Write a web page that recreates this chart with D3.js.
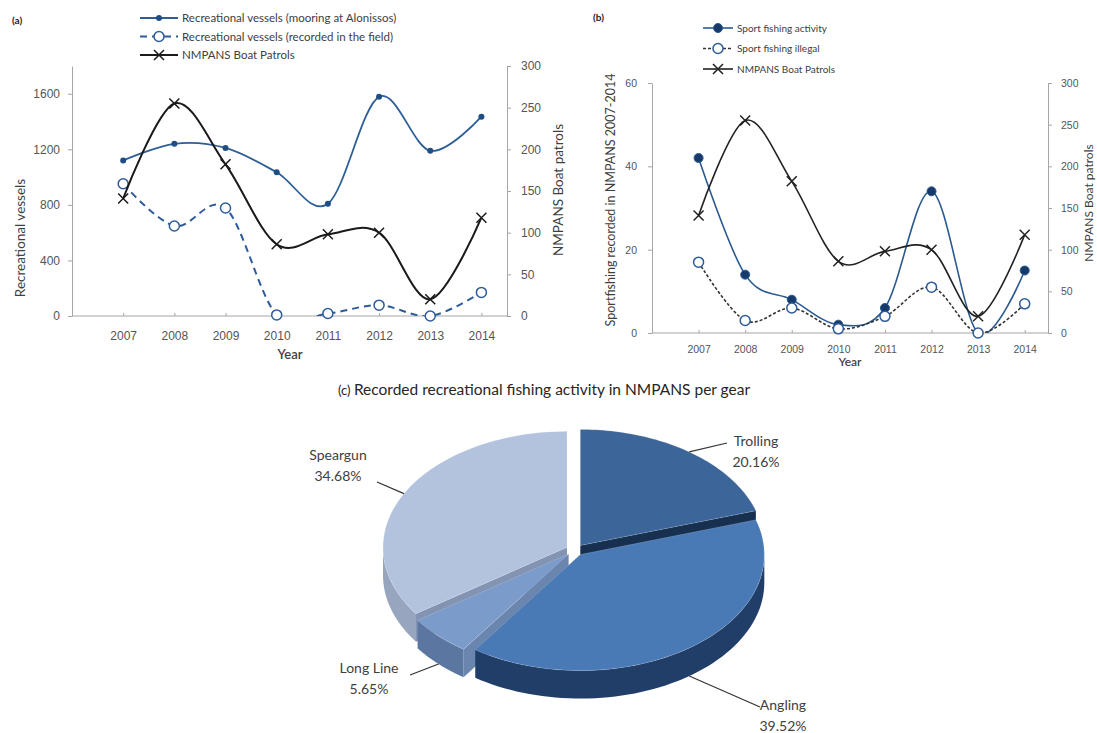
<!DOCTYPE html>
<html>
<head>
<meta charset="utf-8">
<script src="https://cdn.jsdelivr.net/npm/d3@7"></script>
<style>
  html, body { margin: 0; padding: 0; background: #fff; }
  svg { display: block; font-family: Lato, "Liberation Sans", sans-serif; }
</style>
</head>
<body>
<svg id="chart" width="1097" height="733"></svg>
<script>
const years = [2007, 2008, 2009, 2010, 2011, 2012, 2013, 2014];

// (a) vessels + patrols
const vesselsMooring = [1120, 1240, 1210, 1035, 808, 1578, 1190, 1435];
const vesselsField = [952, 648, 778, 8, 18, 78, 0, 170];
const boatPatrols = [141, 255, 182, 86, 98, 100, 20, 118];
const vesselTicks = [0, 400, 800, 1200, 1600];
const patrolTicks = [0, 50, 100, 150, 200, 250, 300];

// (b) sport fishing
const sportActivity = [42, 14, 8, 2, 6, 34, 0, 15];
const sportIllegal = [17, 3, 6, 1, 4, 11, 0, 7];
const sportTicks = [0, 20, 40, 60];

// (c) gear shares
const gears = ["Trolling", "Angling", "Long Line", "Speargun"];
const gearShares = [20.16, 39.52, 5.65, 34.68];

const svg = d3.select("#chart");

const drawMarker = (sel, type, color) => {
    if (type === "dot") {
        sel.append("circle").attr("r", 3).attr("fill", color);
    } else if (type === "disk") {
        sel.append("circle").attr("r", 4.5).attr("fill", "#173a6b").attr("stroke", color).attr("stroke-width", 1);
    } else if (type === "ring") {
        sel.append("circle").attr("r", 5).attr("fill", "#fff").attr("stroke", color).attr("stroke-width", 1.5);
    } else if (type === "cross") {
        sel.append("path").attr("d", "M-5,-5L5,5M-5,5L5,-5").attr("stroke", color).attr("stroke-width", 1.5);
    }
};

const drawPanel = (cfg) => {
    const g = svg.append("g");
    const step = (cfg.right - cfg.left) / 8.5;
    const x = d3.scalePoint().domain(years).range([cfg.left + step, cfg.right - step / 2]);
    const yL = d3.scaleLinear().domain([0, cfg.leftMax]).range([cfg.bottom, cfg.top]);
    const yR = d3.scaleLinear().domain([0, 300]).range([cfg.bottom, cfg.top]);

    const styleAxis = (sel) => {
        sel.selectAll("path, line").attr("stroke", "#a6a6a6");
        sel.selectAll("text").attr("fill", "#555").style("font-size", cfg.tickFont + "px");
    };

    g.append("g")
        .attr("transform", `translate(${cfg.left},0)`)
        .call(d3.axisLeft(yL).tickValues(cfg.leftTicks).tickFormat(d3.format("d"))
            .tickSizeInner(4).tickSizeOuter(0).tickPadding(cfg.leftPad))
        .call(styleAxis);
    g.append("g")
        .attr("transform", `translate(${cfg.right},0)`)
        .call(d3.axisRight(yR).tickValues(patrolTicks).tickFormat(d3.format("d"))
            .tickSizeInner(4).tickSizeOuter(0).tickPadding(cfg.rightPad))
        .call(styleAxis);
    g.append("line")
        .attr("x1", cfg.left).attr("x2", cfg.right)
        .attr("y1", yL(0)).attr("y2", yL(0))
        .attr("stroke", "#a6a6a6");
    g.append("g")
        .attr("transform", `translate(0,${cfg.bottom})`)
        .call(d3.axisBottom(x).tickSizeInner(-3).tickSizeOuter(0).tickPadding(cfg.xPad))
        .call(sel => sel.select(".domain").remove())
        .call(styleAxis);

    const clipId = "clip" + cfg.id;
    g.append("clipPath").attr("id", clipId)
        .append("rect")
        .attr("x", cfg.left).attr("y", cfg.top - 20)
        .attr("width", cfg.right - cfg.left).attr("height", cfg.bottom - cfg.top + 20);

    const curve = d3.curveCardinal.tension(0);
    cfg.series.forEach(s => {
        const y = s.axis === "right" ? yR : yL;
        const line = d3.line()
            .x((d, i) => x(years[i]))
            .y(d => y(d))
            .curve(curve);
        g.append("path")
            .attr("clip-path", `url(#${clipId})`)
            .attr("d", line(s.values))
            .attr("fill", "none")
            .attr("stroke", s.color)
            .attr("stroke-width", s.width)
            .attr("stroke-dasharray", s.dash || null);
        g.selectAll(null)
            .data(s.values)
            .enter()
            .append("g")
            .attr("transform", (d, i) => `translate(${x(years[i])},${y(d)})`)
            .each(function () { drawMarker(d3.select(this), s.marker, s.markerColor); });
    });

    // legend
    cfg.series.forEach((s, i) => {
        const ly = cfg.legend.y + i * cfg.legend.gap;
        const lg = g.append("g");
        lg.append("line")
            .attr("x1", cfg.legend.x).attr("x2", cfg.legend.x + cfg.legend.len)
            .attr("y1", ly).attr("y2", ly)
            .attr("stroke", s.color).attr("stroke-width", s.width)
            .attr("stroke-dasharray", s.dash || null);
        lg.append("g")
            .attr("transform", `translate(${cfg.legend.x + cfg.legend.len / 2},${ly})`)
            .each(function () { drawMarker(d3.select(this), s.marker, s.markerColor); });
        lg.append("text")
            .attr("x", cfg.legend.x + cfg.legend.len + 4)
            .attr("y", ly + cfg.legendFont * 0.35)
            .attr("fill", "#404040")
            .style("font-size", cfg.legendFont + "px")
            .text(s.name);
    });

    g.append("text")
        .attr("x", cfg.tag[0]).attr("y", cfg.tag[1])
        .attr("fill", "#222").style("font-size", "10px").style("font-weight", "bold")
        .text(cfg.tagText);

    g.append("text")
        .attr("transform", `translate(${cfg.leftTitle[0]},${cfg.leftTitle[1]}) rotate(-90)`)
        .attr("text-anchor", "middle").attr("fill", "#404040")
        .style("font-size", cfg.leftTitle[2] + "px")
        .text(cfg.leftTitleText);
    g.append("text")
        .attr("transform", `translate(${cfg.rightTitle[0]},${cfg.rightTitle[1]}) rotate(-90)`)
        .attr("text-anchor", "middle").attr("fill", "#404040")
        .style("font-size", cfg.rightTitle[2] + "px")
        .text("NMPANS Boat patrols");
    g.append("text")
        .attr("x", cfg.yearLabel[0]).attr("y", cfg.yearLabel[1])
        .attr("text-anchor", "middle").attr("fill", "#404040")
        .style("font-size", cfg.yearLabel[2] + "px").style("font-weight", "600")
        .text("Year");
};

drawPanel({
    id: "a", left: 72, right: 507, top: 66, bottom: 316, leftMax: 1800,
    leftTicks: vesselTicks, leftPad: 8, rightPad: 10, xPad: 15, tickFont: 12,
    legend: { x: 140, y: 18, gap: 18.5, len: 38 }, legendFont: 11.5,
    tag: [12, 24], tagText: "(a)",
    leftTitle: [25, 238, 13.5], leftTitleText: "Recreational vessels",
    rightTitle: [563, 190, 13.5], yearLabel: [290, 359, 13],
    series: [
        { name: "Recreational vessels (mooring at Alonissos)", values: vesselsMooring, axis: "left",
          color: "#2d5f96", width: 1.8, marker: "dot", markerColor: "#1f4e85" },
        { name: "Recreational vessels (recorded in the field)", values: vesselsField, axis: "left",
          color: "#2e5b9a", width: 2, dash: "7,5", marker: "ring", markerColor: "#2e5b9a" },
        { name: "NMPANS Boat Patrols", values: boatPatrols, axis: "right",
          color: "#1a1a1a", width: 2, marker: "cross", markerColor: "#1a1a1a" }
    ]
});

drawPanel({
    id: "b", left: 652, right: 1048, top: 83, bottom: 333, leftMax: 60,
    leftTicks: sportTicks, leftPad: 11, rightPad: 9, xPad: 13, tickFont: 10.5,
    legend: { x: 703, y: 28, gap: 20.5, len: 30 }, legendFont: 10,
    tag: [593, 21], tagText: "(b)",
    leftTitle: [615, 200, 12.5], leftTitleText: "Sportfishing recorded in NMPANS 2007-2014",
    rightTitle: [1093, 203, 12], yearLabel: [850, 366, 12],
    series: [
        { name: "Sport fishing activity", values: sportActivity, axis: "left",
          color: "#2b5a8e", width: 1.6, marker: "disk", markerColor: "#2b5a8e" },
        { name: "Sport fishing illegal", values: sportIllegal, axis: "left",
          color: "#333", width: 1.6, dash: "3,2", marker: "ring", markerColor: "#2e5b9a" },
        { name: "NMPANS Boat Patrols", values: boatPatrols, axis: "right",
          color: "#222", width: 1.6, marker: "cross", markerColor: "#222" }
    ]
});

// (c) 3D pie
const pieTop = { "Trolling": "#3c6599", "Angling": "#4a7ab5", "Long Line": "#7b9bcb", "Speargun": "#b3c3de" };
const pieWall = { "Trolling": "#1c3557", "Angling": "#213e68", "Long Line": "#5b77a1", "Speargun": "#97a6be" };
const pieFace = { "Trolling": "#17304f", "Angling": "#1d385e", "Long Line": "#6a85ae", "Speargun": "#8394b2" };
const pieLabelSpots = {
    "Trolling": [756, 446, 727, 443],
    "Angling": [783, 710, 760, 707],
    "Long Line": [369, 673, 410, 675],
    "Speargun": [338, 460, 377, 482]
};

const drawPie = () => {
    const cx = 575, cy = 550, rx = 184, ry = 116, depth = 28, explode = 9;
    const slices = d3.pie().sort(null).value(d => d)(gearShares)
        .map((s, i) => {
            const mid = (s.startAngle + s.endAngle) / 2;
            return Object.assign({}, s, {
                name: gears[i], mid: mid,
                dx: explode * Math.sin(mid),
                dy: -explode * Math.cos(mid) * ry / rx
            });
        });
    const rim = (s, a, dz = 0) => [cx + s.dx + rx * Math.sin(a), cy + s.dy - ry * Math.cos(a) + dz];
    const apex = (s, dz = 0) => [cx + s.dx, cy + s.dy + dz];
    const arcPts = (s, a0, a1, dz = 0) => d3.range(0, 61).map(k => rim(s, a0 + (a1 - a0) * k / 60, dz));
    const poly = pts => d3.line()(pts) + "Z";
    const g = svg.append("g");

    slices.slice()
        .sort((a, b) => -Math.cos(a.mid) + Math.cos(b.mid))
        .forEach(s => {
            const faces = [];
            if (Math.sin(s.startAngle) < -1e-6) faces.push(s.startAngle);
            if (Math.sin(s.endAngle) > 1e-6) faces.push(s.endAngle);
            faces.forEach(a => {
                const r0 = rim(s, a), r1 = rim(s, a, depth);
                g.append("path")
                    .attr("d", poly([apex(s), r0, r1, apex(s, depth)]))
                    .attr("fill", pieFace[s.name]);
            });
            const lo = Math.max(s.startAngle, Math.PI / 2);
            const hi = Math.min(s.endAngle, Math.PI * 1.5);
            if (hi > lo) {
                const pts = arcPts(s, lo, hi).concat(arcPts(s, hi, lo, depth));
                g.append("path").attr("d", poly(pts)).attr("fill", pieWall[s.name]);
            }
            g.append("path")
                .attr("d", poly([apex(s)].concat(arcPts(s, s.startAngle, s.endAngle))))
                .attr("fill", pieTop[s.name])
                .attr("stroke", "rgba(255,255,255,0.25)")
                .attr("stroke-width", 0.6);
        });

    slices.forEach(s => {
        const spot = pieLabelSpots[s.name];
        const start = rim(s, s.mid, -Math.cos(s.mid) > 0 ? depth : 0);
        g.append("line")
            .attr("x1", start[0]).attr("y1", start[1])
            .attr("x2", spot[2]).attr("y2", spot[3])
            .attr("stroke", "#333").attr("stroke-width", 1.2);
        const t = g.append("text")
            .attr("text-anchor", "middle")
            .attr("fill", "#404040")
            .style("font-size", "14px");
        t.append("tspan").attr("x", spot[0]).attr("y", spot[1]).text(s.name);
        t.append("tspan").attr("x", spot[0]).attr("y", spot[1] + 21).text(s.value.toFixed(2) + "%");
    });

    const title = svg.append("text")
        .attr("x", 338).attr("y", 395)
        .attr("fill", "#262626");
    title.append("tspan").style("font-size", "13px").text("(c) ");
    title.append("tspan").style("font-size", "15.5px").text("Recorded recreational fishing activity in NMPANS per gear");
};

drawPie();
</script>
</body>
</html>
